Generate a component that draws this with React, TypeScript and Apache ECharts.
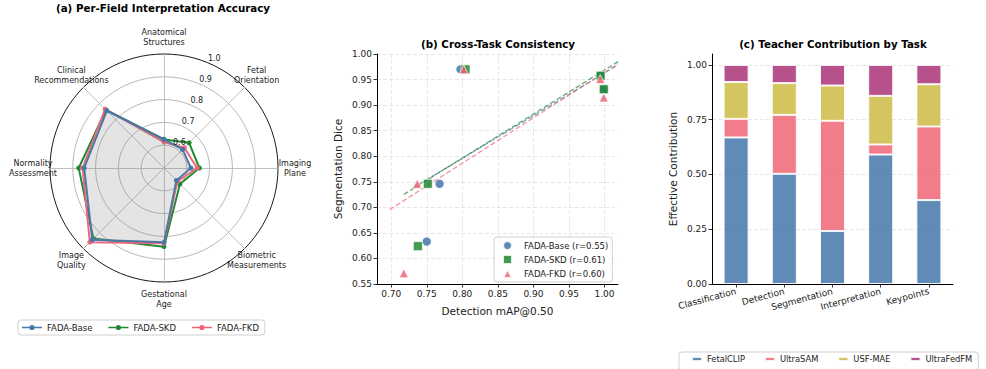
import React, { useEffect, useRef } from 'react';
import * as echarts from 'echarts';

// ---------- (a) radar data (clockwise from top) ----------
const radarFields = [
  'Anatomical\nStructures',
  'Fetal\nOrientation',
  'Imaging\nPlane',
  'Biometric\nMeasurements',
  'Gestational\nAge',
  'Image\nQuality',
  'Normality\nAssessment',
  'Clinical\nRecommendations',
];
const radarBase = [0.626, 0.615, 0.618, 0.577, 0.826, 0.945, 0.85, 0.855];
const radarSKD = [0.625, 0.656, 0.655, 0.599, 0.845, 0.938, 0.874, 0.86];
const radarFKD = [0.614, 0.626, 0.645, 0.583, 0.83, 0.96, 0.857, 0.865];
const radarTicks = [0.6, 0.7, 0.8, 0.9, 1.0];
const radarMin = 0.5;
const radarMax = 1.0;

// ---------- (b) scatter data ----------
const baseX = [0.7975, 0.768, 0.75, 0.9945, 0.999];
const baseY = [0.97, 0.746, 0.633, 0.9575, 0.931];
const skdX = [0.8045, 0.7515, 0.7375, 0.9945, 0.999];
const skdY = [0.97, 0.746, 0.624, 0.9575, 0.931];
const fkdX = [0.802, 0.7366, 0.7177, 0.994, 0.999];
const fkdY = [0.97, 0.746, 0.571, 0.951, 0.915];
const scatterNames = ['FADA-Base (r=0.55)', 'FADA-SKD (r=0.61)', 'FADA-FKD (r=0.60)'];
const scatterXTicks = [0.7, 0.75, 0.8, 0.85, 0.9, 0.95, 1.0];
const scatterYTicks = [0.55, 0.6, 0.65, 0.7, 0.75, 0.8, 0.85, 0.9, 0.95, 1.0];

// ---------- (c) stacked bar data ----------
const tasks = ['Classification', 'Detection', 'Segmentation', 'Interpretation', 'Keypoints'];
const fetalCLIP = [0.669, 0.503, 0.242, 0.591, 0.383];
const ultraSAM = [0.085, 0.269, 0.503, 0.046, 0.336];
const usfMAE = [0.168, 0.145, 0.161, 0.222, 0.193];
const ultraFedFM = [0.078, 0.083, 0.094, 0.141, 0.088];
const barYTicks = [0, 0.25, 0.5, 0.75, 1.0];

const BLUE = '#4477AA';
const GREEN = '#228833';
const PINK = '#EE6677';
const YELLOW = '#CCBB44';
const PURPLE = '#AA3377';
const FONT = 'DejaVu Sans';

function fitLine(xs: number[], ys: number[]) {
  const n = xs.length;
  const mx = xs.reduce((a, b) => a + b, 0) / n;
  const my = ys.reduce((a, b) => a + b, 0) / n;
  let sxy = 0;
  let sxx = 0;
  for (let i = 0; i < n; i++) {
    sxy += (xs[i] - mx) * (ys[i] - my);
    sxx += (xs[i] - mx) * (xs[i] - mx);
  }
  const k = sxy / sxx;
  const b = my - k * mx;
  const x0 = Math.min(...xs) - 0.02;
  const x1 = Math.max(...xs) + 0.02;
  return [
    [x0, k * x0 + b],
    [x1, k * x1 + b],
  ];
}

const zip = (xs: number[], ys: number[]) => xs.map((x, i) => [x, ys[i]]);

export default function App() {
  const ref = useRef<HTMLDivElement>(null);
  useEffect(() => {
    if (!ref.current) return;
    const chart = echarts.init(ref.current, undefined, { renderer: 'svg' });

    // radar geometry
    const cx = 164;
    const cy = 168;
    const R = 114;
    const n = radarFields.length;
    // ECharts radar goes counter-clockwise; reorder so display is clockwise
    const order = [0, ...Array.from({ length: n - 1 }, (_, i) => n - 1 - i)];
    const reorder = (arr: any[]) => order.map((i) => arr[i]);

    const graphics: any[] = [];
    const title = (text: string, x: number, y: number) => ({
      type: 'text',
      x,
      y,
      style: { text, font: `bold 10.3px "${FONT}"`, fill: '#000', align: 'center', verticalAlign: 'middle' },
    });
    graphics.push(title('(a) Per-Field Interpretation Accuracy', 163, 8));
    graphics.push(title('(b) Cross-Task Consistency', 498, 44));
    graphics.push(title('(c) Teacher Contribution by Task', 833, 44));

    // radar field labels
    radarFields.forEach((f, i) => {
      const a = (i * 2 * Math.PI) / n;
      graphics.push({
        type: 'text',
        x: cx + 131 * Math.sin(a),
        y: cy - 131 * Math.cos(a),
        style: {
          text: f,
          font: `8px "${FONT}"`,
          fill: '#222',
          align: 'center',
          verticalAlign: 'middle',
          lineHeight: 10,
        },
      });
    });
    // radial tick labels
    const la = (22.5 * Math.PI) / 180;
    radarTicks.forEach((t) => {
      const r = ((t - radarMin) / (radarMax - radarMin)) * R;
      graphics.push({
        type: 'text',
        x: cx + r * Math.sin(la) + 0.3,
        y: cy - r * Math.cos(la) - 4,
        z: 10,
        style: {
          text: t.toFixed(1),
          font: `8px "${FONT}"`,
          fill: '#222',
          align: 'left',
          verticalAlign: 'middle',
        },
      });
    });

    const lineIcon =
      'path://M0,2.3 L20,2.3 L20,3.7 L0,3.7 Z M12.6,3 A2.6,2.6 0 1,1 7.4,3 A2.6,2.6 0 1,1 12.6,3 Z';

    const radarSeries = (name: string, vals: number[], color: string, area: boolean, z: number) => ({
      type: 'radar',
      radarIndex: 0,
      name,
      z,
      symbol: 'circle',
      symbolSize: 5,
      lineStyle: { color, width: 2 },
      itemStyle: { color },
      areaStyle: area ? { color: 'rgba(128,128,128,0.3)' } : undefined,
      data: [{ name, value: reorder(vals) }],
    });

    const fitBase = fitLine(baseX, baseY);
    const fitSKD = fitLine(skdX, skdY);
    const fitFKD = fitLine(fkdX, fkdY);

    const fitSeries = (data: number[][], color: string, id: string) => ({
      type: 'line',
      id,
      xAxisIndex: 0,
      yAxisIndex: 0,
      data,
      symbol: 'none',
      silent: true,
      lineStyle: { color, width: 1.3, type: [5, 2.5], opacity: 0.7 },
      z: 1,
    });

    const scatterSeries = (name: string, xs: number[], ys: number[], color: string, symbol: string, size: number, z: number) => ({
      type: 'scatter',
      name,
      xAxisIndex: 0,
      yAxisIndex: 0,
      symbol,
      symbolSize: size,
      z,
      itemStyle: { color, opacity: 0.85, borderColor: '#fff', borderWidth: 0.8 },
      data: zip(xs, ys),
    });

    const barSeries = (name: string, data: number[], color: string) => ({
      type: 'bar',
      name,
      stack: 'total',
      xAxisIndex: 1,
      yAxisIndex: 1,
      barWidth: 25,
      itemStyle: { color, opacity: 0.85, borderColor: '#fff', borderWidth: 1 },
      data,
    });

    const axisCommon = {
      axisLine: { show: true, lineStyle: { color: '#000', width: 1 } },
      axisTick: { show: true, length: 3.5, lineStyle: { color: '#000', width: 0.8 } },
      axisLabel: { color: '#222', fontSize: 9, fontFamily: FONT, margin: 5 },
      nameTextStyle: { color: '#222', fontSize: 10.5, fontFamily: FONT },
    };

    chart.setOption({
      animation: false,
      backgroundColor: '#fff',
      textStyle: { fontFamily: FONT },
      radar: {
        center: [cx, cy],
        radius: R,
        startAngle: 90,
        shape: 'circle',
        splitNumber: 5,
        indicator: reorder(radarFields).map((f) => ({ name: f, min: radarMin, max: radarMax })),
        axisName: { show: false },
        axisLine: { lineStyle: { color: '#b0b0b0', width: 0.8 } },
        splitLine: {
          lineStyle: { color: ['#b0b0b0', '#b0b0b0', '#b0b0b0', '#b0b0b0', '#b0b0b0', '#000'], width: 0.9 },
        },
        splitArea: { show: false },
        axisTick: { show: false },
        axisLabel: { show: false },
      },
      grid: [
        { left: 377, top: 54, width: 241, height: 230 },
        { left: 712, top: 54, width: 241, height: 230 },
      ],
      xAxis: [
        {
          ...axisCommon,
          gridIndex: 0,
          type: 'value',
          min: 0.68,
          max: 1.019,
          name: 'Detection mAP@0.50',
          nameLocation: 'middle',
          nameGap: 21,
          axisTick: { ...axisCommon.axisTick, customValues: scatterXTicks },
          axisLabel: { ...axisCommon.axisLabel, customValues: scatterXTicks, formatter: (v: number) => v.toFixed(2) },
          splitLine: { show: true, lineStyle: { color: '#e2e2e2', type: [4, 2], width: 0.8 } },
        },
        {
          ...axisCommon,
          gridIndex: 1,
          type: 'category',
          data: tasks,
          axisTick: { ...axisCommon.axisTick, alignWithLabel: true },
          axisLabel: { ...axisCommon.axisLabel, rotate: 15, margin: 7 },
          splitLine: { show: false },
        },
      ],
      yAxis: [
        {
          ...axisCommon,
          gridIndex: 0,
          type: 'value',
          min: 0.55,
          max: 1.0,
          name: 'Segmentation Dice',
          nameLocation: 'middle',
          nameGap: 34,
          axisTick: { ...axisCommon.axisTick, customValues: scatterYTicks },
          axisLabel: { ...axisCommon.axisLabel, customValues: scatterYTicks, formatter: (v: number) => v.toFixed(2) },
          splitLine: { show: true, lineStyle: { color: '#e2e2e2', type: [4, 2], width: 0.8 } },
        },
        {
          ...axisCommon,
          gridIndex: 1,
          type: 'value',
          min: 0,
          max: 1.05,
          name: 'Effective Contribution',
          nameLocation: 'middle',
          nameGap: 34,
          axisTick: { ...axisCommon.axisTick, customValues: barYTicks },
          axisLabel: { ...axisCommon.axisLabel, customValues: barYTicks, formatter: (v: number) => v.toFixed(2) },
          splitLine: { show: true, lineStyle: { color: '#e2e2e2', type: [4, 2], width: 0.8 } },
        },
      ],
      legend: [
        {
          data: [
            { name: 'FADA-Base', icon: lineIcon },
            { name: 'FADA-SKD', icon: lineIcon },
            { name: 'FADA-FKD', icon: lineIcon },
          ],
          left: 18,
          top: 320,
          orient: 'horizontal',
          itemWidth: 20,
          itemHeight: 6,
          itemGap: 16,
          padding: [3, 6, 3, 4],
          borderColor: '#d0d0d0',
          borderWidth: 1,
          borderRadius: 3,
          selectedMode: false,
          textStyle: { fontSize: 8.5, color: '#222', fontFamily: FONT },
        },
        {
          data: [
            { name: scatterNames[0], icon: 'circle' },
            { name: scatterNames[1], icon: 'rect' },
            { name: scatterNames[2], icon: 'triangle' },
          ],
          left: 494,
          top: 237,
          orient: 'vertical',
          itemWidth: 9,
          itemHeight: 9,
          itemGap: 3,
          padding: [3, 4, 3, 8],
          borderColor: '#d0d0d0',
          borderWidth: 1,
          borderRadius: 3,
          backgroundColor: 'rgba(255,255,255,0.85)',
          selectedMode: false,
          textStyle: { fontSize: 8.5, color: '#222', fontFamily: FONT, lineHeight: 10, padding: [0, 0, 0, 7] },
        },
        {
          data: ['FetalCLIP', 'UltraSAM', 'USF-MAE', 'UltraFedFM'],
          left: 679,
          top: 352,
          width: 400,
          orient: 'horizontal',
          icon: 'rect',
          itemWidth: 10,
          itemHeight: 4,
          itemGap: 19,
          padding: [3, 6, 8, 12],
          borderColor: '#d0d0d0',
          borderWidth: 1,
          borderRadius: 3,
          selectedMode: false,
          textStyle: { fontSize: 8.3, color: '#222', fontFamily: FONT },
        },
      ],
      series: [
        radarSeries('FADA-SKD', radarSKD, GREEN, false, 2),
        radarSeries('FADA-FKD', radarFKD, PINK, false, 3),
        radarSeries('FADA-Base', radarBase, BLUE, true, 4),
        fitSeries(fitBase, BLUE, 'fitBase'),
        fitSeries(fitSKD, GREEN, 'fitSKD'),
        fitSeries(fitFKD, PINK, 'fitFKD'),
        scatterSeries(scatterNames[0], baseX, baseY, BLUE, 'circle', 9, 3),
        scatterSeries(scatterNames[1], skdX, skdY, GREEN, 'rect', 9, 4),
        scatterSeries(scatterNames[2], fkdX, fkdY, PINK, 'triangle', 9, 5),
        barSeries('FetalCLIP', fetalCLIP, BLUE),
        barSeries('UltraSAM', ultraSAM, PINK),
        barSeries('USF-MAE', usfMAE, YELLOW),
        barSeries('UltraFedFM', ultraFedFM, PURPLE),
      ],
      graphic: graphics,
    });
    return () => chart.dispose();
  }, []);
  return (
    <div
      ref={ref}
      style={{ position: 'fixed', left: 0, top: 0, width: 986, height: 369, background: '#fff' }}
    />
  );
}
